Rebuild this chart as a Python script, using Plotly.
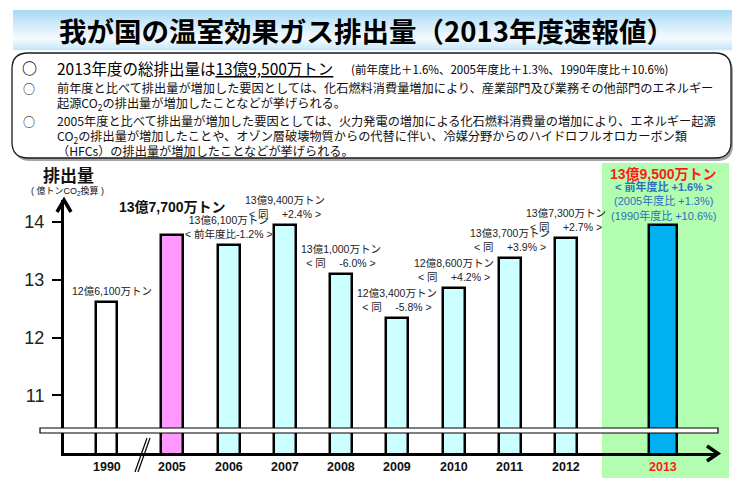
import plotly.graph_objects as go

W, H = 744, 485

# data (億トンCO2換算)
years = ["1990", "2005", "2006", "2007", "2008", "2009", "2010", "2011", "2012", "2013"]
emissions = [12.61, 13.77, 13.61, 13.94, 13.10, 12.34, 12.86, 13.37, 13.73, 13.95]
amount_labels = ["12億6,100万トン", "13億7,700万トン", "13億6,100万トン", "13億9,400万トン",
                 "13億1,000万トン", "12億3,400万トン", "12億8,600万トン", "13億3,700万トン",
                 "13億7,300万トン", "13億9,500万トン"]
change_labels = ["", "", "< 前年度比-1.2% >", "< 同　 +2.4% >", "< 同　 -6.0% >", "< 同　 -5.8% >",
                 "< 同　 +4.2% >", "< 同　 +3.9% >", "< 同　 +2.7% >", "< 前年度比 +1.6% >"]
compare_2013 = ["(2005年度比 +1.3%)", "(1990年度比 +10.6%)"]
y_ticks = [11, 12, 13, 14]

title = "我が国の温室効果ガス排出量（2013年度速報値）"
summary_main = "2013年度の総排出量は<span style='text-decoration:underline'>13億9,500万トン</span>"
summary_sub = "(前年度比＋1.6%、2005年度比＋1.3%、1990年度比＋10.6%)"
notes = [
    ("○", "前年度と比べて排出量が増加した要因としては、化石燃料消費量増加により、産業部門及び業務その他部門のエネルギー"),
    ("", "起源CO<sub>2</sub>の排出量が増加したことなどが挙げられる。"),
    ("○", "2005年度と比べて排出量が増加した要因としては、火力発電の増加による化石燃料消費量の増加により、エネルギー起源"),
    ("", "CO<sub>2</sub>の排出量が増加したことや、オゾン層破壊物質からの代替に伴い、冷媒分野からのハイドロフルオロカーボン類"),
    ("", "（HFCs）の排出量が増加したことなどが挙げられる。"),
]

bar_colors = ["#FFFFFF", "#FF99FF"] + ["#CCFFFF"] * 7 + ["#00B0F0"]
JP = "Noto Sans CJK JP"
AR = "Liberation Sans, Noto Sans CJK JP"


def px(x):
    return x / W


def py(y):
    return 1 - y / H


def note(text, x, y, size, xanchor="center", color="black", family=JP):
    return dict(text=text, xref="paper", yref="paper", x=px(x), y=py(y), xanchor=xanchor,
                yanchor="middle", showarrow=False, font=dict(family=family, size=size, color=color))


# slot positions: gap after 1990 (axis break) and before the latest year
n = len(years)
x_pos = [i + (0.17 if i >= 1 else 0) + (0.73 if i == n - 1 else 0) for i in range(n)]
widths = [0.39] * (n - 1) + [0.5]

fig = go.Figure()
fig.add_trace(go.Bar(
    x=x_pos, y=emissions, width=widths,
    marker=dict(color=bar_colors, line=dict(color="black", width=2.5)),
    hoverinfo="skip",
))

shapes = []
annotations = []

# title band with soft gradient
band_top, band_bot = 10, 50
steps = 20
top_c, mid_c, bot_c = (168, 219, 247), (246, 251, 254), (200, 232, 249)
for k in range(steps):
    t = k / (steps - 1)
    if t < 0.72:
        u = t / 0.72
        c = [round(a + (b - a) * u) for a, b in zip(top_c, mid_c)]
    else:
        u = (t - 0.72) / 0.28
        c = [round(a + (b - a) * u) for a, b in zip(mid_c, bot_c)]
    y0 = band_top + (band_bot - band_top) * k / steps
    y1 = band_top + (band_bot - band_top) * (k + 1) / steps
    shapes.append(dict(type="rect", xref="paper", yref="paper",
                       x0=px(13), x1=px(732), y0=py(y1 + 0.3), y1=py(y0),
                       fillcolor=f"rgb({c[0]},{c[1]},{c[2]})", line=dict(width=0), layer="below"))
annotations.append(note(f"<b>{title}</b>", 366, 30, 27.5))


def rounded(x0, y0, x1, y1, r):
    pts = (f"M {px(x0 + r)},{py(y0)} L {px(x1 - r)},{py(y0)} Q {px(x1)},{py(y0)} {px(x1)},{py(y0 + r)} "
           f"L {px(x1)},{py(y1 - r)} Q {px(x1)},{py(y1)} {px(x1 - r)},{py(y1)} "
           f"L {px(x0 + r)},{py(y1)} Q {px(x0)},{py(y1)} {px(x0)},{py(y1 - r)} "
           f"L {px(x0)},{py(y0 + r)} Q {px(x0)},{py(y0)} {px(x0 + r)},{py(y0)} Z")
    return pts


# summary box with shadow
shapes.append(dict(type="path", xref="paper", yref="paper", path=rounded(14, 55, 733, 161, 16),
                   fillcolor="#A6A6A6", line=dict(width=0), layer="below"))
shapes.append(dict(type="path", xref="paper", yref="paper", path=rounded(12, 53, 731, 158, 16),
                   fillcolor="white", line=dict(color="#1a1a1a", width=1.3), layer="below"))

annotations.append(note("<b>○</b>", 29, 68, 15))
annotations.append(note(summary_main, 55, 68, 15.5, xanchor="left"))
annotations.append(note(summary_sub, 349, 69, 11.5, xanchor="left"))
line_y = [88, 103, 121, 136, 151]
for (bullet, txt), yy in zip(notes, line_y):
    if bullet:
        annotations.append(note(bullet, 29, yy, 12))
    annotations.append(note(txt, 55, yy, 12.2, xanchor="left", color="#111"))

# highlight for the latest year
shapes.append(dict(type="rect", xref="paper", yref="paper", x0=px(602), x1=px(729), y0=py(478), y1=py(163),
                   fillcolor="#B3FDB0", line=dict(width=0), layer="below"))

# axis arrowheads
shapes.append(dict(type="path", xref="paper", yref="paper",
                   path=f"M {px(57)},{py(212)} L {px(64)},{py(200)} L {px(71)},{py(212)}",
                   line=dict(color="black", width=3.5)))
shapes.append(dict(type="path", xref="paper", yref="paper",
                   path=f"M {px(707)},{py(446)} L {px(718)},{py(453.5)} L {px(707)},{py(461)}",
                   line=dict(color="black", width=3.5)))

# axis break band and // mark
shapes.append(dict(type="rect", xref="paper", yref="paper", x0=px(40), x1=px(718), y0=py(433), y1=py(428),
                   fillcolor="white", line=dict(color="black", width=1.2), layer="above"))
for off in (0, 3):
    shapes.append(dict(type="line", xref="paper", yref="paper",
                       x0=px(135 + off), y0=py(472), x1=px(147 + off), y1=py(438),
                       line=dict(color="black", width=1.2)))

# y-axis title
annotations.append(note("<b>排出量</b>", 68, 174, 17, color="#111"))
annotations.append(note("( 億トンCO<sub>2</sub>換算 )", 67, 191, 9, color="#111", family=AR))

# bar labels
for i in range(n):
    xi, yi = x_pos[i], emissions[i]
    if i == 0:
        annotations.append(dict(text=amount_labels[i], x=xi, y=yi, xref="x", yref="y", xshift=5,
                                xanchor="center", yanchor="bottom", yshift=3, showarrow=False,
                                font=dict(family=AR, size=10.5, color="#222")))
    elif i == 1:
        annotations.append(dict(text=f"<b>{amount_labels[i]}</b>", x=xi, y=yi, xref="x", yref="y",
                                xanchor="center", yanchor="bottom", yshift=18, showarrow=False,
                                font=dict(family=AR, size=14, color="#111")))
    elif i == n - 1:
        blue = f"<b>{change_labels[i]}</b><br>{compare_2013[0]}<br>{compare_2013[1]}"
        annotations.append(dict(text=blue, x=xi, y=yi, xref="x", yref="y",
                                xanchor="center", yanchor="bottom", yshift=1, showarrow=False,
                                font=dict(family=AR, size=11, color="#2E6FBF")))
        annotations.append(dict(text=f"<b>{amount_labels[i]}</b>", x=xi, y=yi, xref="x", yref="y",
                                xanchor="center", yanchor="bottom", yshift=41, showarrow=False,
                                font=dict(family=AR, size=14, color="#FF1A1A")))
    else:
        annotations.append(dict(text=f"{amount_labels[i]}<br>{change_labels[i]}", x=xi, y=yi,
                                xref="x", yref="y", xanchor="center", yanchor="bottom", yshift=3,
                                showarrow=False, font=dict(family=AR, size=10.5, color="#222")))

# year labels
for i in range(n):
    col = "#FF1A1A" if i == n - 1 else "#111"
    annotations.append(dict(text=f"<b>{years[i]}</b>", x=x_pos[i], y=py(467), xref="x", yref="paper",
                            xanchor="center", yanchor="middle", showarrow=False,
                            font=dict(family=AR, size=12.5, color=col)))

x_unit_px = 56.25
fig.update_layout(
    width=W, height=H,
    margin=dict(l=0, r=0, t=0, b=0),
    paper_bgcolor="white", plot_bgcolor="rgba(0,0,0,0)",
    showlegend=False,
    bargap=0,
    xaxis=dict(domain=[px(64), px(717)],
               range=[(64 - 106.5) / x_unit_px, (717 - 106.5) / x_unit_px],
               showline=True, linecolor="black", linewidth=3,
               showticklabels=False, ticks="", showgrid=False, zeroline=False),
    yaxis=dict(domain=[py(453), py(200)], range=[10, 11 + (395 - 200) / 57.67],
               showline=True, linecolor="black", linewidth=3,
               tickvals=y_ticks, ticks="outside", ticklen=9, tickwidth=1.5, tickcolor="black",
               ticklabelstandoff=4,
               tickfont=dict(family=AR, size=18, color="#222"),
               showgrid=False, zeroline=False),
    shapes=shapes,
    annotations=annotations,
)

# page body margin off so the figure sits at the window's top-left corner
fig.write_html("out.html", config={"displayModeBar": False},
               post_script="document.body.style.margin='0';")
